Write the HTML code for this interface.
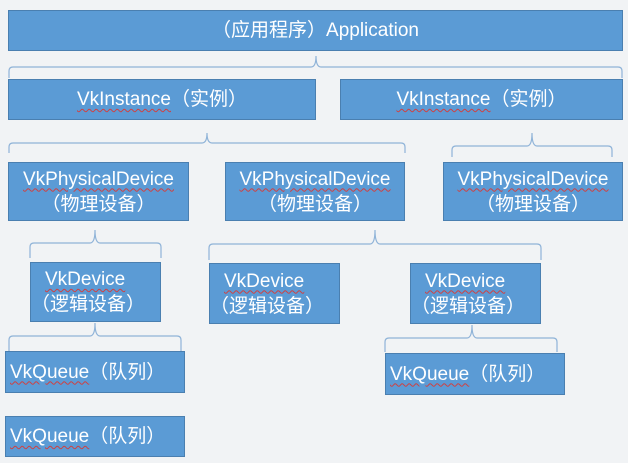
<!DOCTYPE html>
<html><head><meta charset="utf-8"><style>
body{margin:0;width:628px;height:463px;background:#f1f3f5;position:relative;overflow:hidden;font-family:"Liberation Sans","Noto Sans CJK SC",sans-serif;}
.b{position:absolute;background:#5b9bd5;border:1px solid #4a7fb0;box-sizing:border-box;color:#fff;font-size:19px;display:flex;flex-direction:column;justify-content:center;align-items:center;line-height:25px;white-space:nowrap}
.l{align-items:flex-start;padding-left:4px}
u{text-decoration:underline wavy #d04040;text-decoration-thickness:1px;text-underline-offset:3px}
svg{position:absolute;left:0;top:0}
</style></head><body>
<svg width="628" height="463" fill="none" stroke="#8fb3d8" stroke-width="1.2">
<path d="M9,78 V71 Q9,67 13,67 H311 Q316,67 316,56 Q316,67 321,67 H618 Q622,67 622,71 V78"/>
<path d="M9,153 V147 Q9,143 13,143 H202 Q207,143 207,133 Q207,143 212,143 H401 Q405,143 405,147 V153"/>
<path d="M452,157 V150 Q452,146 456,146 H527 Q532,146 532,133 Q532,146 537,146 H608 Q612,146 612,150 V157"/>
<path d="M30,258 V247 Q30,243 34,243 H90 Q95,243 95,230 Q95,243 100,243 H157 Q161,243 161,247 V258"/>
<path d="M209,260 V248 Q209,244 213,244 H370 Q375,244 375,230 Q375,244 380,244 H537 Q541,244 541,248 V260"/>
<path d="M9,351 V340 Q9,336 13,336 H90 Q95,336 95,323 Q95,336 100,336 H177 Q181,336 181,340 V351"/>
<path d="M385,352 V342 Q385,338 389,338 H467 Q472,338 472,325 Q472,338 477,338 H553 Q557,338 557,342 V352"/>
</svg>
<div class="b" style="left:8px;top:10px;width:615px;height:41px">（应用程序）Application</div>
<div class="b" style="left:8px;top:79px;width:308px;height:41px"><span><u>VkInstance</u>（实例）</span></div>
<div class="b" style="left:340px;top:79px;width:283px;height:41px"><span><u>VkInstance</u>（实例）</span></div>
<div class="b" style="left:8px;top:162px;width:181px;height:59px"><span><u>VkPhysicalDevice</u></span><span>（物理设备）</span></div>
<div class="b" style="left:225px;top:162px;width:180px;height:59px"><span><u>VkPhysicalDevice</u></span><span>（物理设备）</span></div>
<div class="b" style="left:443px;top:162px;width:180px;height:59px"><span><u>VkPhysicalDevice</u></span><span>（物理设备）</span></div>
<div class="b l" style="left:30px;top:262px;width:131px;height:60px"><span style="padding-left:10px"><u>VkDevice</u></span><span style="margin-left:-4px">（逻辑设备）</span></div>
<div class="b l" style="left:209px;top:263px;width:131px;height:61px"><span style="padding-left:10px"><u>VkDevice</u></span><span style="margin-left:-4px">（逻辑设备）</span></div>
<div class="b l" style="left:410px;top:263px;width:131px;height:61px"><span style="padding-left:10px"><u>VkDevice</u></span><span style="margin-left:-4px">（逻辑设备）</span></div>
<div class="b l" style="left:5px;top:351px;width:180px;height:42px"><span><u>VkQueue</u>（队列）</span></div>
<div class="b l" style="left:5px;top:416px;width:180px;height:41px"><span><u>VkQueue</u>（队列）</span></div>
<div class="b l" style="left:385px;top:353px;width:180px;height:42px"><span><u>VkQueue</u>（队列）</span></div>
</body></html>
